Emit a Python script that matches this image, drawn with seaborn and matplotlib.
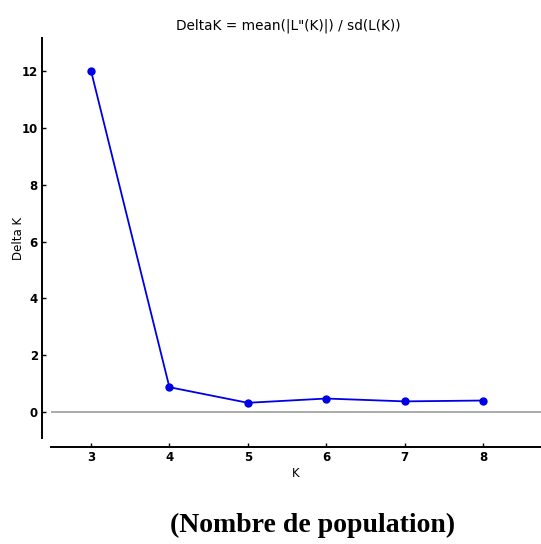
import matplotlib
matplotlib.use("Agg")
import matplotlib.pyplot as plt
import seaborn as sns
import pandas as pd

# Evanno delta K per number of clusters
k_values = [3, 4, 5, 6, 7, 8]
delta_k = [12.02, 0.87, 0.32, 0.47, 0.37, 0.40]
y_ticks = [0, 2, 4, 6, 8, 10, 12]

sns.set_theme(style="white")
plt.rcParams["font.family"] = ["DejaVu Sans"]
plt.rcParams["text.color"] = "black"
plt.rcParams["axes.labelcolor"] = "black"
plt.rcParams["xtick.color"] = "black"
plt.rcParams["ytick.color"] = "black"

df = pd.DataFrame({"K": k_values, "Delta K": delta_k})

fig = plt.figure(figsize=(5.41, 5.44), dpi=100)
ax = fig.add_axes([51 / 541, 1 - 438 / 544, 490 / 541, 400 / 544])

ax.axhline(0, color="#aaaaaa", lw=1.4, zorder=1)
sns.lineplot(data=df, x="K", y="Delta K", ax=ax, color="#0000e6", lw=1.3,
             marker="o", markersize=6, markeredgewidth=0, zorder=3)

ax.set_xlim(2.49, 8.74)
ax.set_ylim(-0.92, 13.17)
ax.set_xticks(k_values)
ax.set_yticks(y_ticks)

for side in ("top", "right"):
    ax.spines[side].set_visible(False)
for side in ("left", "bottom"):
    ax.spines[side].set_visible(True)
    ax.spines[side].set_color("black")
    ax.spines[side].set_linewidth(1.4)
    ax.spines[side].set_position(("outward", 6.5))

ax.tick_params(axis="both", direction="in", length=3, width=1, color="black",
               labelsize=8.5, pad=3, left=True, bottom=True)
for lab in ax.get_xticklabels() + ax.get_yticklabels():
    lab.set_fontweight("bold")

ax.set_xlabel("K", fontsize=8.5, labelpad=2)
ax.set_ylabel("Delta K", fontsize=8.5)
ax.yaxis.label.set_va("center")
ax.yaxis.set_label_coords(-33 / 490, 0.5)
ax.set_title("DeltaK = mean(|L\"(K)|) / sd(L(K))", fontsize=9.8, pad=6, x=0.485)

fig.text(313 / 541, 1 - 525 / 544, "(Nombre de population)",
         family="Liberation Serif", fontweight="bold", fontsize=20,
         ha="center", va="center")

fig.savefig("out.png", dpi=100)
